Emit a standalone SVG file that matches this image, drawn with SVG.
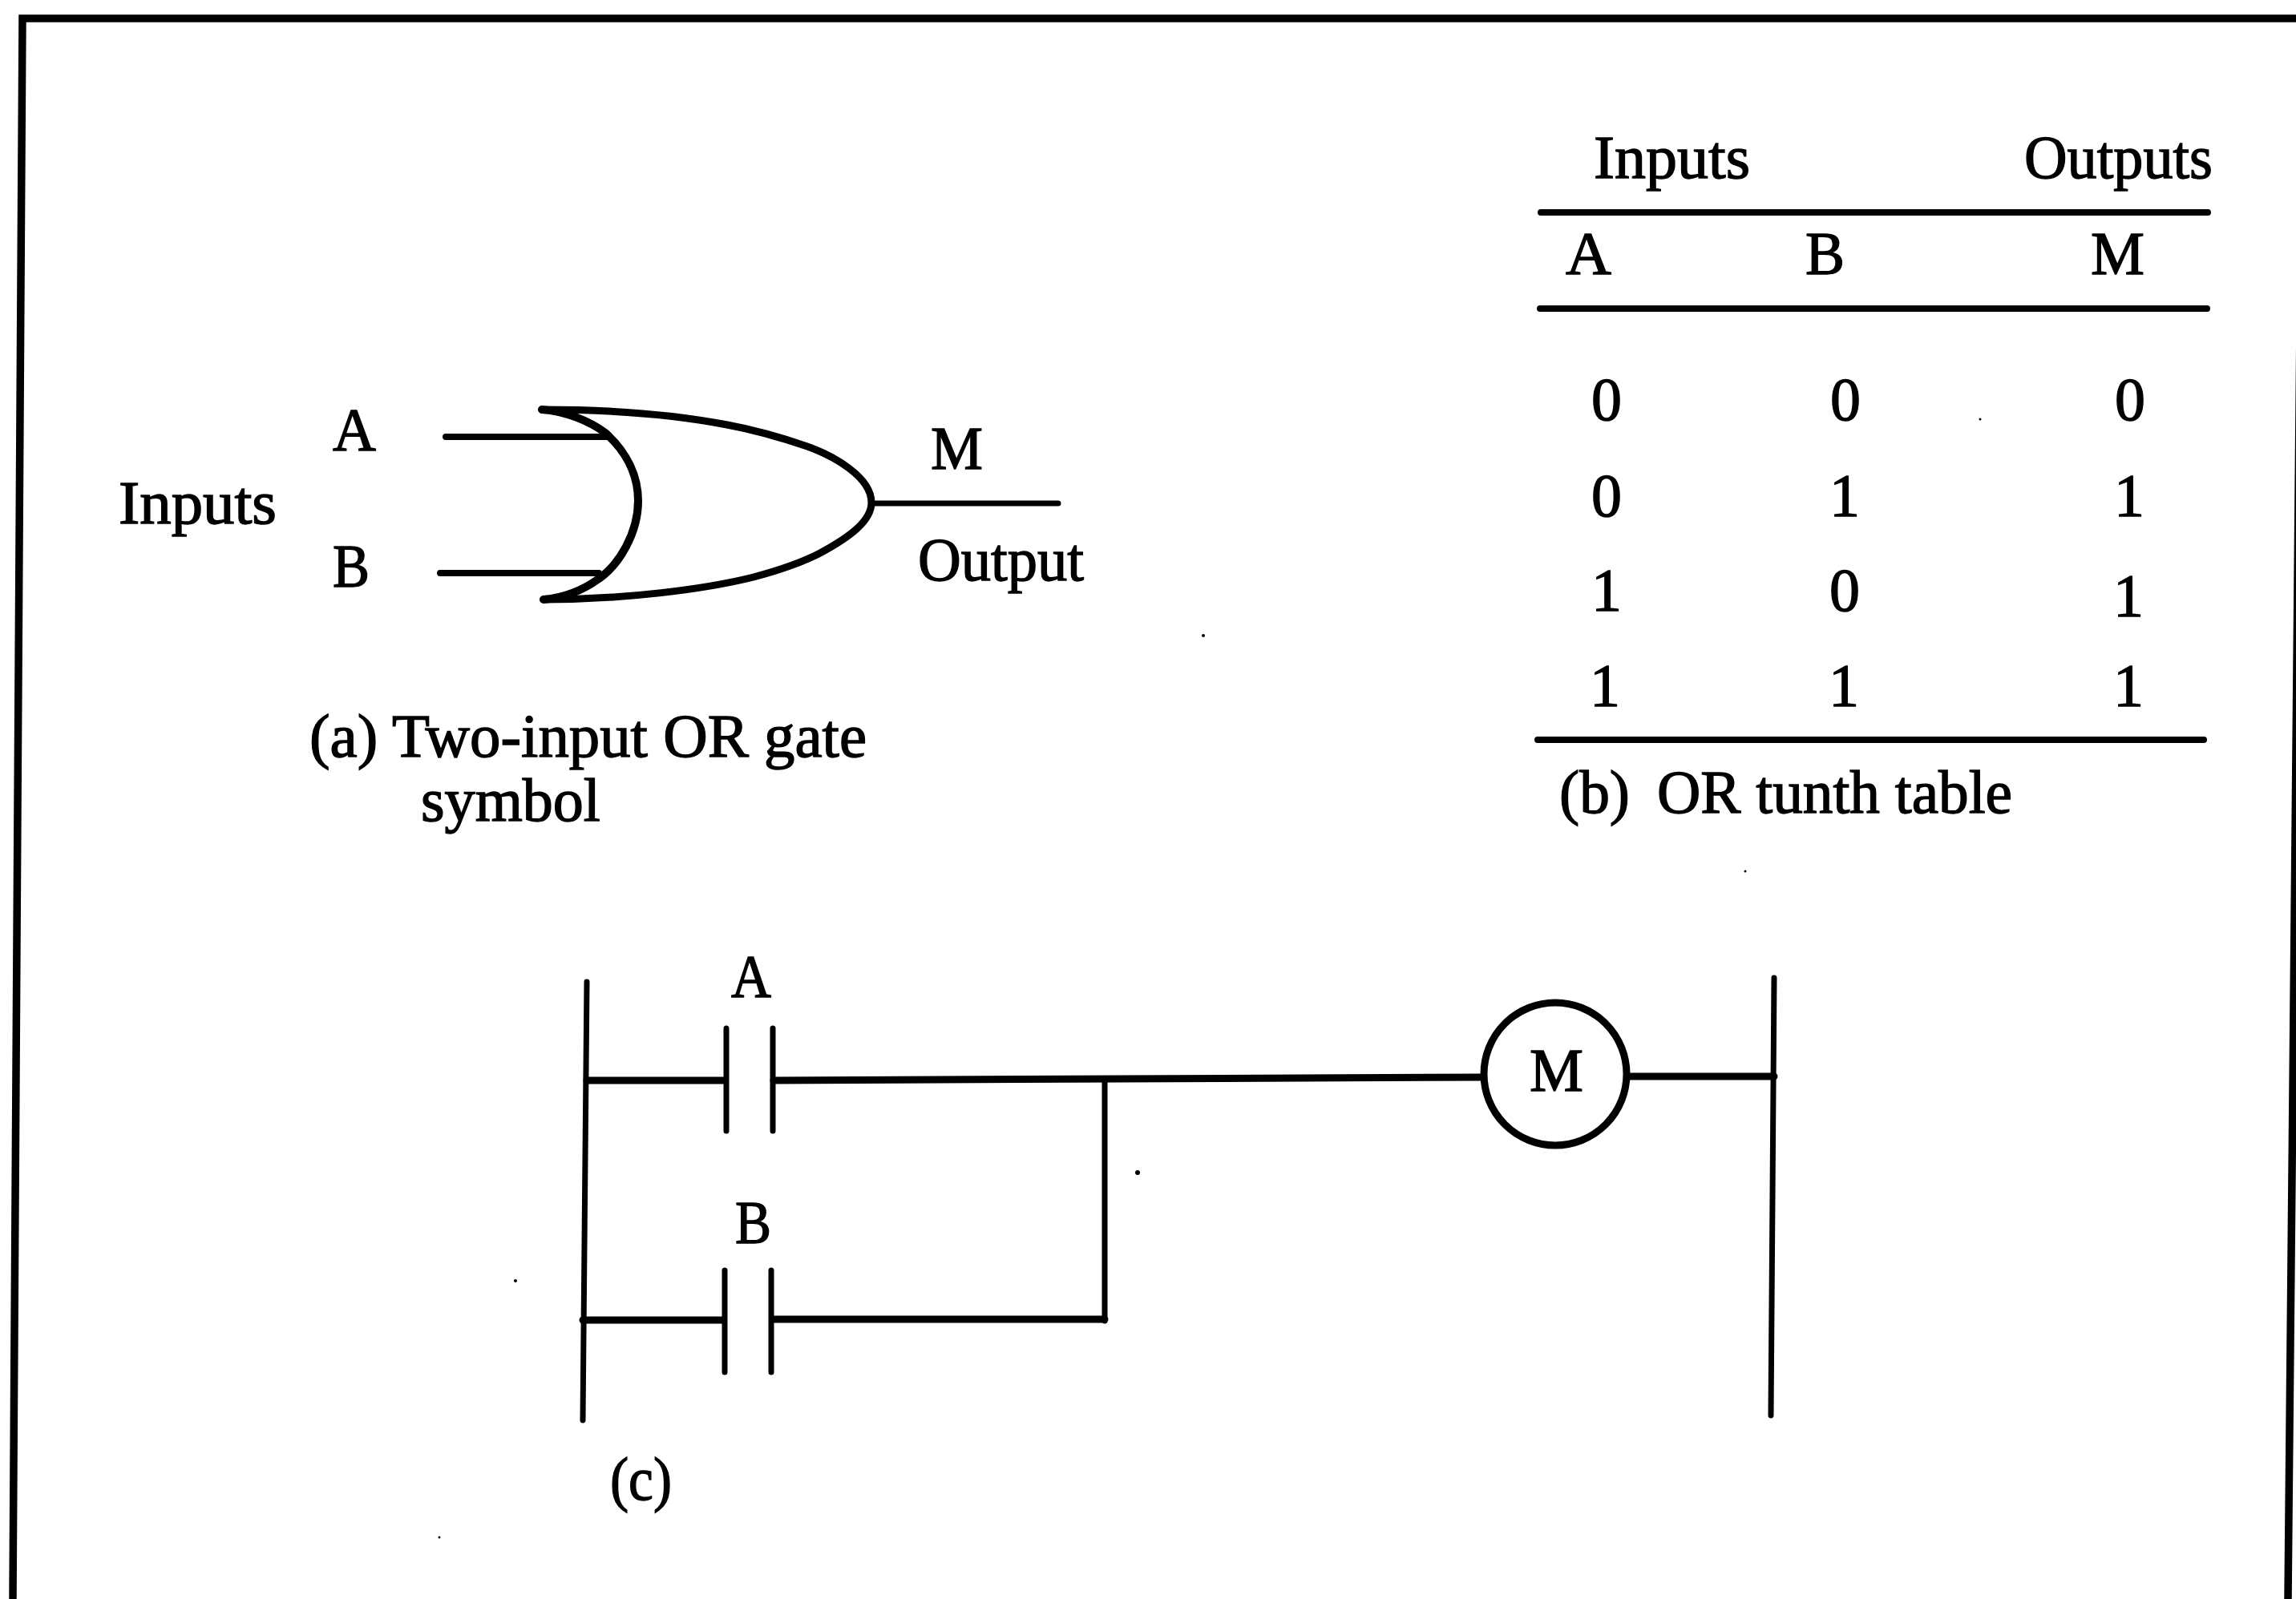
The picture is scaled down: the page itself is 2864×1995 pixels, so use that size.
<svg xmlns="http://www.w3.org/2000/svg" width="2864" height="1995" viewBox="0 0 2864 1995">
<style>
text{font-family:"Liberation Serif","Times New Roman",serif;font-size:76px;fill:#000;stroke:#000;stroke-width:1.4}
.l{stroke:#000;fill:none;stroke-linecap:round;stroke-linejoin:round}
.w7{stroke-width:7}.w8{stroke-width:8}.w9{stroke-width:9}.w10{stroke-width:10}
.s{fill:#000}
</style>
<rect width="2864" height="1995" fill="#fff"/>
<path id="frame" d="M16 1995L28 23L2864 23M2870 300L2854 1995" fill="none" stroke="#000" stroke-width="9.5"/>
<g id="or-gate">
<path class="l w10" d="M676 511C705 513 735 525 755 540C783 565 796 595 796 625C796 665 772 705 747 722C725 738 700 746 678 748"/>
<path class="l w9" d="M676 511C760 511 840 517 907 530C945 537 975 546 1007 557C1040 569 1087 595 1087 627C1087 650 1060 670 1023 690C1000 702 970 712 940 720C880 735 780 748 678 748"/>
<text x="415" y="562" textLength="54" lengthAdjust="spacingAndGlyphs">A</text>
<text x="415" y="732" textLength="46" lengthAdjust="spacingAndGlyphs">B</text>
<text x="148" y="653" textLength="197" lengthAdjust="spacingAndGlyphs">Inputs</text>
<text x="1161" y="585" textLength="65" lengthAdjust="spacingAndGlyphs">M</text>
<text x="1145" y="724" textLength="207" lengthAdjust="spacingAndGlyphs">Output</text>
<text x="386" y="944" textLength="695" lengthAdjust="spacingAndGlyphs">(a) Two-input OR gate</text>
<text x="525" y="1024" textLength="224" lengthAdjust="spacingAndGlyphs">symbol</text>
</g>
<g id="truth-table">
<path class="l w8" d="M1922 265H2754M1921 385H2753M1918 923H2749"/>
<text x="1988" y="222" textLength="195" lengthAdjust="spacingAndGlyphs">Inputs</text>
<text x="2525" y="222" textLength="235" lengthAdjust="spacingAndGlyphs">Outputs</text>
<text x="1953" y="342" textLength="57" lengthAdjust="spacingAndGlyphs">A</text>
<text x="2252" y="342" textLength="49" lengthAdjust="spacingAndGlyphs">B</text>
<text x="2608" y="342" textLength="67" lengthAdjust="spacingAndGlyphs">M</text>
<text x="1985" y="524">0</text><text x="2283" y="524">0</text><text x="2638" y="524">0</text>
<text x="1985" y="644">0</text><text x="2282" y="644">1</text><text x="2637" y="644">1</text>
<text x="1985" y="762">1</text><text x="2282" y="762">0</text><text x="2636" y="769">1</text>
<text x="1983" y="881">1</text><text x="2281" y="881">1</text><text x="2636" y="881">1</text>
<text x="1945" y="1014" textLength="88" lengthAdjust="spacingAndGlyphs">(b)</text>
<text x="2067" y="1014" textLength="443" lengthAdjust="spacingAndGlyphs">OR tunth table</text>
</g>
<g id="connectors">
<path class="l w8" d="M556 545H759M549 715H747"/>
<path class="l w7" d="M1087 628H1320"/>
<path class="l w9" d="M732 1348H904M965 1348L1849 1344M727 1647H902M964 1646H1378M2033 1343H2213"/>
<path class="l w7" d="M1378 1350V1648"/>
</g>
<g id="rails">
<path class="l w7" d="M732 1225L727 1772M2213 1220L2209 1766"/>
</g>
<g id="contact-a">
<path class="l w7" d="M906 1283V1411M964 1283V1411"/>
<text x="912" y="1244" textLength="50" lengthAdjust="spacingAndGlyphs">A</text>
</g>
<g id="contact-b">
<path class="l w7" d="M904 1585V1712M962 1585V1712"/>
<text x="917" y="1551" textLength="45" lengthAdjust="spacingAndGlyphs">B</text>
</g>
<g id="coil-m">
<circle class="l w9" cx="1940" cy="1340" r="89"/>
<text x="1908" y="1361" textLength="67" lengthAdjust="spacingAndGlyphs">M</text>
</g>
<text id="label-c" x="761" y="1871" textLength="77" lengthAdjust="spacingAndGlyphs">(c)</text>
<g id="specks">
<circle class="s" cx="1419" cy="1463" r="3"/><circle class="s" cx="643" cy="1598" r="2"/><circle class="s" cx="1501" cy="793" r="2"/><circle class="s" cx="2177" cy="1087" r="1.5"/><circle class="s" cx="548" cy="1918" r="1.5"/><circle class="s" cx="2470" cy="523" r="1.5"/>
</g>
</svg>
